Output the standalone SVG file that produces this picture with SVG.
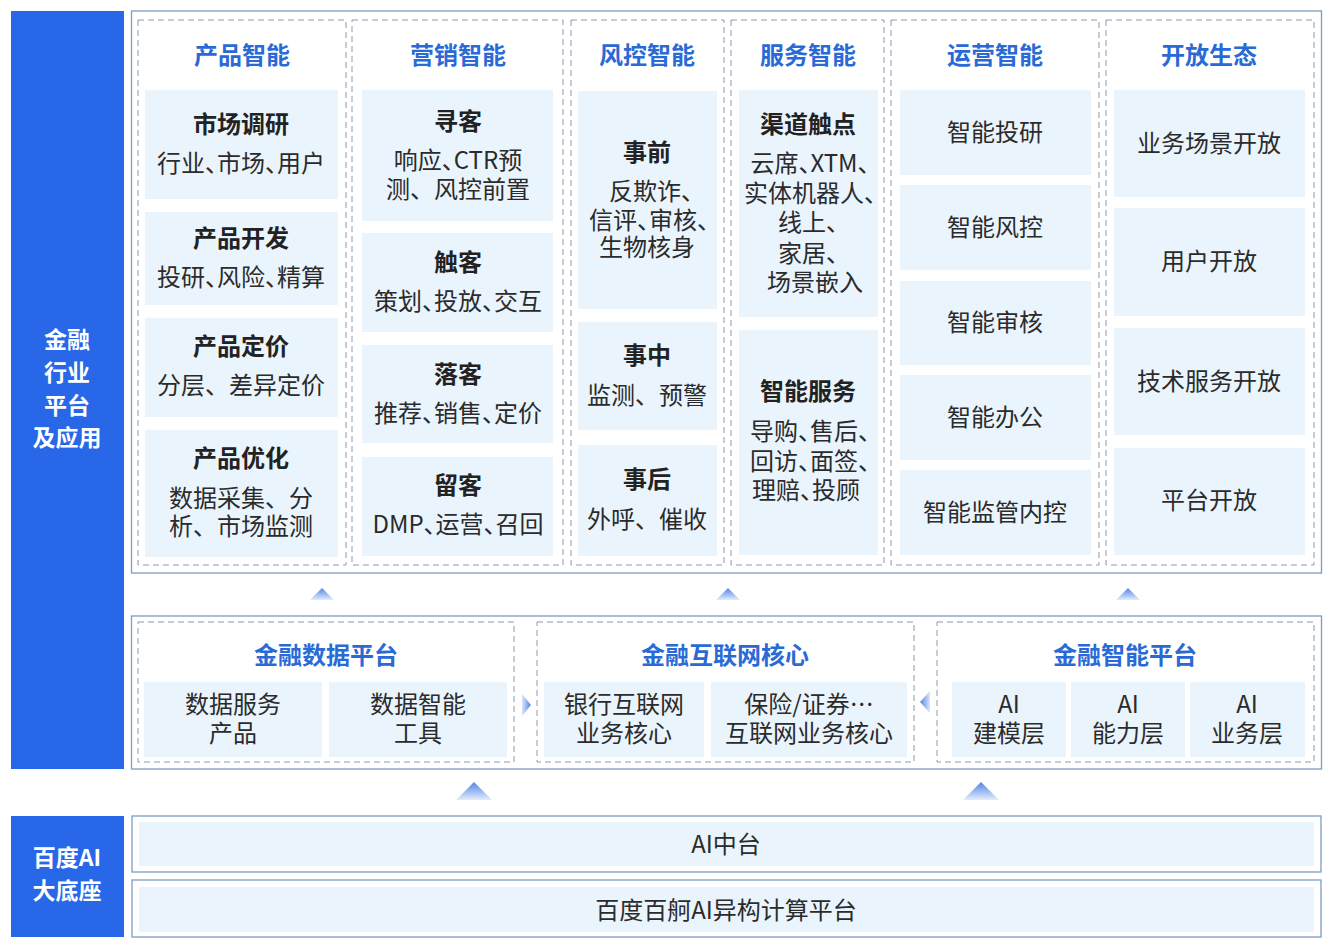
<svg xmlns="http://www.w3.org/2000/svg" width="1333" height="941" viewBox="0 0 1333 941">
<defs>
<linearGradient id="gUp" x1="0" y1="0" x2="0" y2="1"><stop offset="0" stop-color="#4F86E6"/><stop offset="1" stop-color="#E3ECFB"/></linearGradient>
<linearGradient id="gRight" x1="1" y1="0" x2="0" y2="0"><stop offset="0" stop-color="#4F86E6"/><stop offset="1" stop-color="#DCE7FA"/></linearGradient>
<linearGradient id="gLeft" x1="0" y1="0" x2="1" y2="0"><stop offset="0" stop-color="#4F86E6"/><stop offset="1" stop-color="#DCE7FA"/></linearGradient>
<style>
text{font-family:"Noto Sans CJK SC","Noto Sans",sans-serif;text-anchor:middle;dominant-baseline:central}
.side{fill:#2767E8}
.sideT{fill:#fff;font-size:23px;font-weight:bold}
.outer{fill:#fff;stroke:#7F9CC4;stroke-width:1.3}
.dash{fill:#fff;stroke:#8E99AB;stroke-width:1;stroke-dasharray:6 4}
.cell{fill:#EAF4FD}
.hd{fill:#2A6AD6;font-size:24px;font-weight:bold}
.tt{fill:#222;font-size:24px;font-weight:bold}
.tx{fill:#2B2B2B;font-size:24px}
.h{font-feature-settings:"halt"}
</style>
</defs>
<rect width="1333" height="941" fill="#fff"/>

<g id="side-top"><rect class="side" x="11" y="11" width="113" height="758"/>
<text class="sideT" x="67" y="338">金融</text><text class="sideT" x="67" y="371">行业</text><text class="sideT" x="67" y="404">平台</text><text class="sideT" x="67" y="436">及应用</text></g>
<g id="side-bottom"><rect class="side" x="11" y="816" width="113" height="121"/>
<text class="sideT" x="67" y="856">百度AI</text><text class="sideT" x="67" y="889">大底座</text></g>

<g id="apps"><rect class="outer" x="131.5" y="11" width="1190" height="562"/></g>

<g id="col-product"><rect class="dash" x="138" y="20" width="208" height="545"/>
<text class="hd" x="242" y="53">产品智能</text>
<rect class="cell" x="145" y="90" width="193" height="109"/><text class="tt" x="241" y="122">市场调研</text><text class="tx h" x="241" y="161">行业、市场、用户</text>
<rect class="cell" x="145" y="212" width="193" height="93"/><text class="tt" x="241" y="236">产品开发</text><text class="tx h" x="241" y="275">投研、风险、精算</text>
<rect class="cell" x="145" y="318" width="193" height="99"/><text class="tt" x="241" y="344">产品定价</text><text class="tx" x="241" y="383">分层、差异定价</text>
<rect class="cell" x="145" y="430" width="193" height="127"/><text class="tt" x="241" y="456">产品优化</text><text class="tx" x="241" y="496">数据采集、分</text><text class="tx" x="241" y="524">析、市场监测</text></g>

<g id="col-marketing"><rect class="dash" x="352" y="20" width="211" height="545"/>
<text class="hd" x="458" y="53">营销智能</text>
<rect class="cell" x="362" y="90" width="191" height="131"/><text class="tt" x="458" y="119">寻客</text><text class="tx h" x="458" y="158">响应、CTR预</text><text class="tx" x="458" y="187">测、风控前置</text>
<rect class="cell" x="362" y="233" width="191" height="99"/><text class="tt" x="458" y="260">触客</text><text class="tx h" x="458" y="299">策划、投放、交互</text>
<rect class="cell" x="362" y="345" width="191" height="98"/><text class="tt" x="458" y="372">落客</text><text class="tx h" x="458" y="411">推荐、销售、定价</text>
<rect class="cell" x="362" y="457" width="191" height="99"/><text class="tt" x="458" y="483">留客</text><text class="tx h" x="458" y="522">DMP、运营、召回</text></g>

<g id="col-risk"><rect class="dash" x="571" y="20" width="153" height="545"/>
<text class="hd" x="647" y="53">风控智能</text>
<rect class="cell" x="578" y="91" width="139" height="218"/><text class="tt" x="647" y="150">事前</text><text class="tx h" x="651" y="189">反欺诈、</text><text class="tx h" x="649" y="218">信评、审核、</text><text class="tx" x="647" y="245">生物核身</text>
<rect class="cell" x="578" y="322" width="139" height="108"/><text class="tt" x="647" y="353">事中</text><text class="tx" x="647" y="393">监测、预警</text>
<rect class="cell" x="578" y="445" width="139" height="111"/><text class="tt" x="647" y="477">事后</text><text class="tx" x="647" y="517">外呼、催收</text></g>

<g id="col-service"><rect class="dash" x="731" y="20" width="153" height="545"/>
<text class="hd" x="808" y="53">服务智能</text>
<rect class="cell" x="739" y="90" width="139" height="227"/><text class="tt" x="808" y="122">渠道触点</text><text class="tx h" x="810" y="161">云席、XTM、</text><text class="tx h" x="810" y="191">实体机器人、</text><text class="tx h" x="808" y="220">线上、</text><text class="tx h" x="808" y="251">家居、</text><text class="tx" x="815" y="280">场景嵌入</text>
<rect class="cell" x="739" y="330" width="139" height="225"/><text class="tt" x="808" y="389">智能服务</text><text class="tx h" x="810" y="429">导购、售后、</text><text class="tx h" x="810" y="459">回访、面签、</text><text class="tx h" x="806" y="488">理赔、投顾</text></g>

<g id="col-ops"><rect class="dash" x="891" y="20" width="208" height="545"/>
<text class="hd" x="995" y="53">运营智能</text>
<rect class="cell" x="900" y="90" width="191" height="85"/><text class="tx" x="995" y="130">智能投研</text>
<rect class="cell" x="900" y="185" width="191" height="85"/><text class="tx" x="995" y="225">智能风控</text>
<rect class="cell" x="900" y="281" width="191" height="84"/><text class="tx" x="995" y="320">智能审核</text>
<rect class="cell" x="900" y="375" width="191" height="85"/><text class="tx" x="995" y="415">智能办公</text>
<rect class="cell" x="900" y="470" width="191" height="85"/><text class="tx" x="995" y="510">智能监管内控</text></g>

<g id="col-open"><rect class="dash" x="1106" y="20" width="208" height="545"/>
<text class="hd" x="1209" y="53">开放生态</text>
<rect class="cell" x="1114" y="90" width="191" height="107"/><text class="tx" x="1209" y="141">业务场景开放</text>
<rect class="cell" x="1114" y="208" width="191" height="108"/><text class="tx" x="1209" y="259">用户开放</text>
<rect class="cell" x="1114" y="328" width="191" height="107"/><text class="tx" x="1209" y="379">技术服务开放</text>
<rect class="cell" x="1114" y="448" width="191" height="107"/><text class="tx" x="1209" y="498">平台开放</text></g>

<g id="platforms"><rect class="outer" x="131.5" y="616" width="1190" height="153"/></g>

<g id="data-platform"><rect class="dash" x="138" y="622" width="376" height="140"/>
<text class="hd" x="326" y="653">金融数据平台</text>
<rect class="cell" x="144" y="682" width="178" height="75"/><text class="tx" x="233" y="702">数据服务</text><text class="tx" x="233" y="731">产品</text>
<rect class="cell" x="329" y="682" width="178" height="75"/><text class="tx" x="418" y="702">数据智能</text><text class="tx" x="418" y="731">工具</text></g>

<g id="internet-core"><rect class="dash" x="537" y="622" width="377" height="140"/>
<text class="hd" x="725" y="653">金融互联网核心</text>
<rect class="cell" x="544" y="682" width="160" height="75"/><text class="tx" x="624" y="702">银行互联网</text><text class="tx" x="624" y="731">业务核心</text>
<rect class="cell" x="711" y="682" width="196" height="75"/><text class="tx" x="809" y="702">保险/证券…</text><text class="tx" x="809" y="731">互联网业务核心</text></g>

<g id="ai-platform"><rect class="dash" x="937" y="622" width="377" height="140"/>
<text class="hd" x="1125" y="653">金融智能平台</text>
<rect class="cell" x="952" y="682" width="114" height="75"/><text class="tx" x="1009" y="702">AI</text><text class="tx" x="1009" y="731">建模层</text>
<rect class="cell" x="1071" y="682" width="114" height="75"/><text class="tx" x="1128" y="702">AI</text><text class="tx" x="1128" y="731">能力层</text>
<rect class="cell" x="1190" y="682" width="115" height="75"/><text class="tx" x="1247" y="702">AI</text><text class="tx" x="1247" y="731">业务层</text></g>

<g id="ai-middle"><rect class="outer" x="132" y="816" width="1189" height="56"/><rect class="cell" x="139" y="822" width="1175" height="44"/><text class="tx" x="726" y="842">AI中台</text></g>
<g id="compute"><rect class="outer" x="132" y="880" width="1189" height="57"/><rect class="cell" x="139" y="887" width="1175" height="45"/><text class="tx" x="726" y="908">百度百舸AI异构计算平台</text></g>

<g id="connectors">
<polygon points="322,588 334,600 310,600" fill="url(#gUp)"/>
<polygon points="728,588 740,600 716,600" fill="url(#gUp)"/>
<polygon points="1128,588 1140,600 1116,600" fill="url(#gUp)"/>
<polygon points="474,782 492,800 456,800" fill="url(#gUp)"/>
<polygon points="981,782 999,800 963,800" fill="url(#gUp)"/>
<polygon points="531,705 522,694 522,716" fill="url(#gRight)"/>
<polygon points="920,702 930,691 930,713" fill="url(#gLeft)"/>
</g>
</svg>
